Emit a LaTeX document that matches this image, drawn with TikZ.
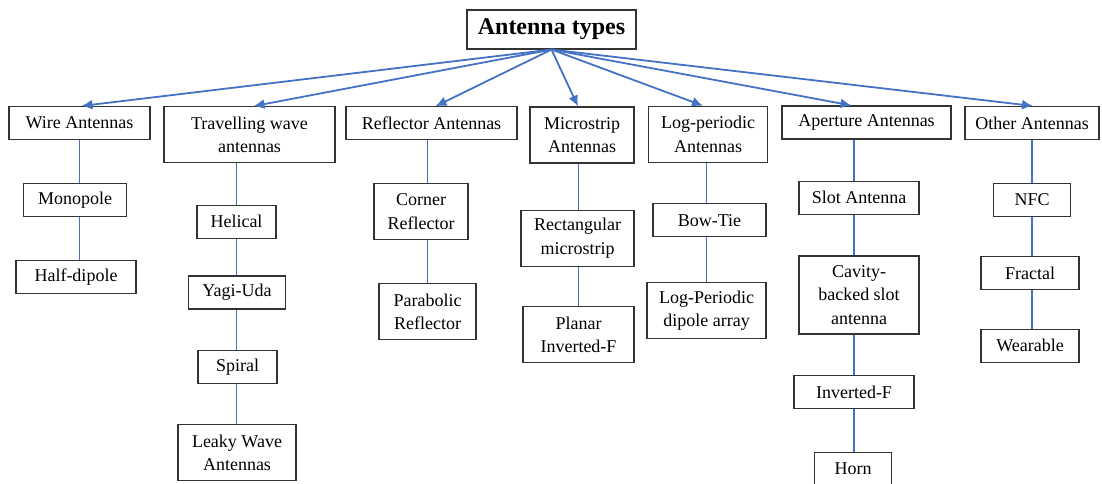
\documentclass[tikz,border=0pt]{standalone}
\usepackage{fontspec}
\setmainfont{Liberation Serif}
\usetikzlibrary{arrows.meta}
\definecolor{linkblue}{HTML}{4472C4}

\begin{document}
\begin{tikzpicture}[x=1pt,y=-1pt,
    box/.style={draw=black!80, line width=1.1pt, fill=white, align=center, inner sep=2pt,
      font=\fontsize{18}{23.3}\selectfont, minimum height=33},
    twoline/.style={box, minimum height=56},
    threeline/.style={box, minimum height=78},
    link/.style={draw=linkblue, line width=1.8pt},
    arr/.style={link, -{Latex[length=11pt,width=10pt]}}]
  \useasboundingbox (0,0) rectangle (1102,483);
  \clip (0,0) rectangle (1102,483);

  \node[box, font=\bfseries\fontsize{24}{28}\selectfont, minimum width=169, minimum height=39] (root) at (551.5,29.5) {Antenna types};

  % first row
  \node[box, minimum width=141] (wire) at (79.5,123) {Wire Antennas};
  \node[twoline, minimum width=171] (travel) at (249.5,134.7) {Travelling wave\\antennas};
  \node[box, minimum width=171] (refl) at (431.5,123.3) {Reflector Antennas};
  \node[twoline, minimum width=104] (micro) at (582,135) {Microstrip\\Antennas};
  \node[twoline, minimum width=119] (logp) at (708,134.3) {Log-periodic\\Antennas};
  \node[box, minimum width=169] (aper) at (866.5,122.5) {Aperture Antennas};
  \node[box, minimum width=134] (other) at (1032,123) {Other Antennas};

  % columns
  \node[box, minimum width=103] (mono) at (75,200) {Monopole};
  \node[box, minimum width=120] (half) at (76,276.7) {Half-dipole};

  \node[box, minimum width=79] (helical) at (236.5,221.8) {Helical};
  \node[box, minimum width=97] (yagi) at (237,292.5) {Yagi-Uda};
  \node[box, minimum width=79] (spiral) at (237.5,366.7) {Spiral};
  \node[twoline, minimum width=118] (leaky) at (237,452.5) {Leaky Wave\\Antennas};

  \node[twoline, minimum width=94] (corner) at (421,211.7) {Corner\\Reflector};
  \node[twoline, minimum width=97] (parab) at (427.5,311.8) {Parabolic\\Reflector};

  \node[twoline, minimum width=113] (rect) at (577.5,238.2) {Rectangular\\microstrip};
  \node[twoline, minimum width=111] (planar) at (578.5,334.5) {Planar\\Inverted-F};

  \node[box, minimum width=113] (bowtie) at (709.5,220.3) {Bow-Tie};
  \node[twoline, minimum width=119] (lpda) at (706.5,310.5) {Log-Periodic\\dipole array};

  \node[box, minimum width=120] (slot) at (859,197.7) {Slot Antenna};
  \node[threeline, minimum width=120] (cavity) at (859,295) {Cavity-\\backed slot\\antenna};
  \node[box, minimum width=120] (invf) at (854,392.2) {Inverted-F};
  \node[box, minimum width=77] (horn) at (853,468.8) {Horn};

  \node[box, minimum width=77] (nfc) at (1032,199.7) {NFC};
  \node[box, minimum width=98] (fractal) at (1030,273) {Fractal};
  \node[box, minimum width=98] (wear) at (1030,345.8) {Wearable};

  \foreach \n/\s in {wire/2, travel/4, refl/4, micro/-4, logp/-5, aper/-15, other/1}
    \draw[arr] (root.south) -- ([xshift=\s]\n.north);

  \foreach \a/\b/\c in {wire/mono/wire, mono/half/wire,
      travel/helical/helical, helical/yagi/helical, yagi/spiral/helical, spiral/leaky/helical,
      refl/corner/parab, corner/parab/parab,
      micro/rect/planar, rect/planar/planar,
      logp/bowtie/lpda, bowtie/lpda/lpda,
      aper/slot/invf, slot/cavity/invf, cavity/invf/invf, invf/horn/invf,
      other/nfc/other, nfc/fractal/other, fractal/wear/other}
    \draw[link] (\a.south -| \c) -- (\b.north -| \c);
\end{tikzpicture}
\end{document}
